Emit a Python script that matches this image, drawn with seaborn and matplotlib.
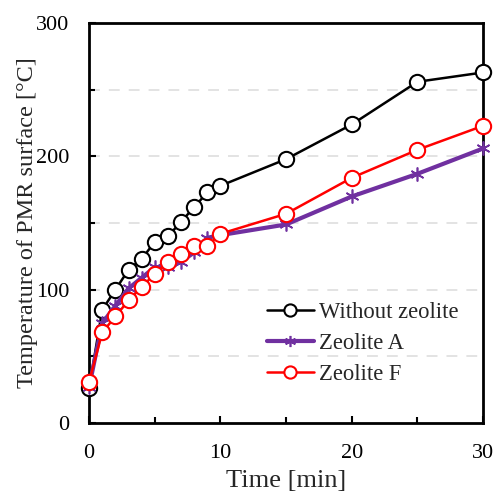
import numpy as np
import pandas as pd
import matplotlib
matplotlib.use("Agg")
import matplotlib.pyplot as plt
import seaborn as sns
from matplotlib.ticker import MultipleLocator

time_min = [0, 1, 2, 3, 4, 5, 6, 7, 8, 9, 10, 15, 20, 25, 30]
without_zeolite = [26, 85, 100, 115, 123, 136, 140, 151, 162, 173, 178, 198, 224, 256, 263]
zeolite_a = [27, 75, 88, 101, 109, 117, 117, 121, 128, 139, 141, 149, 170, 187, 206]
zeolite_f = [31, 68, 80, 92, 102, 112, 121, 127, 133, 133, 142, 157, 184, 205, 223]
series_names = ["Without zeolite", "Zeolite A", "Zeolite F"]
x_ticks = [0, 10, 20, 30]
y_ticks = [0, 100, 200, 300]

df = pd.concat([
    pd.DataFrame({"Time": time_min, "Temp": vals, "Series": name})
    for name, vals in zip(series_names, [without_zeolite, zeolite_a, zeolite_f])
])

sns.set_style("white")
plt.rcParams['font.family'] = ['Liberation Serif', 'DejaVu Serif']

fig = plt.figure(figsize=(4.95, 4.92), dpi=100)
ax = fig.add_axes([0.18, 0.14, 0.796, 0.813])

styles = {
    "Without zeolite": dict(color="black", marker="o", mfc="white", mec="black", ms=11, lw=1.8, mew=1.5),
    "Zeolite A": dict(color="#7030A0", marker=(6, 2, 0), mfc="#7030A0", mec="#7030A0", ms=10, lw=3.0, mew=1.2),
    "Zeolite F": dict(color="#FF0000", marker="o", mfc="white", mec="#FF0000", ms=11, lw=1.8, mew=1.5),
}
order = ["Without zeolite", "Zeolite A", "Zeolite F"]
for name in order:
    st = styles[name]
    sns.lineplot(data=df[df["Series"] == name], x="Time", y="Temp", ax=ax,
                 color=st["color"], marker=st["marker"], markerfacecolor=st["mfc"],
                 markeredgecolor=st["mec"], markersize=st["ms"], linewidth=st["lw"],
                 markeredgewidth=st["mew"], label=name, zorder=3 if name != "Zeolite F" else 4,
                 clip_on=False)

ax.set_xlim(0, 30)
ax.set_ylim(0, 300)
ax.set_xticks(x_ticks)
ax.set_yticks(y_ticks)
ax.xaxis.set_minor_locator(MultipleLocator(5))
ax.yaxis.set_minor_locator(MultipleLocator(50))
for y in range(50, 300, 50):
    ax.axhline(y, color="#E0E0E0", lw=1.3, ls=(0, (6, 5)), zorder=0)
ax.tick_params(axis="both", which="both", direction="in", labelsize=16, width=1.5, colors="black")
ax.tick_params(axis="x", which="major", length=5, pad=15)
ax.tick_params(axis="y", which="major", length=5, pad=14)
ax.tick_params(axis="both", which="minor", length=4)
ax.tick_params(axis="both", which="both", bottom=True, left=True)
for s in ax.spines.values():
    s.set_linewidth(2)
    s.set_color("black")
ax.set_xlabel("Time [min]", fontsize=19, labelpad=5)
ax.set_ylabel("Temperature of PMR surface [°C]", fontsize=17.5, labelpad=-1)
leg = ax.legend(loc="lower right", frameon=False, fontsize=16.3, handlelength=2.1,
                handletextpad=0.2, borderaxespad=0.3, labelspacing=0.45,
                markerscale=0.8, bbox_to_anchor=(0.977, 0.055))
fig.savefig("out.png", dpi=100)
